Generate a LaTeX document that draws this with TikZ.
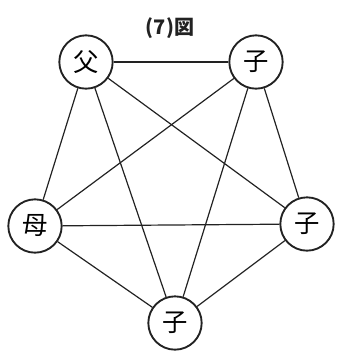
\documentclass[tikz,border=0pt]{standalone}
\usepackage{fontspec}
\newfontfamily\cjk{Noto Sans CJK JP}
\usetikzlibrary{positioning}
\definecolor{fmInk}{HTML}{222222}
\tikzset{
  mem/.style={circle, draw=fmInk, line width=1.4pt, fill=white, minimum size=40pt, inner sep=0pt, font=\cjk\fontsize{19}{19}\selectfont},
  lnk/.style={draw=fmInk, line width=0.9pt},
}
\begin{document}
\begin{tikzpicture}[x=0.75pt,y=-0.75pt]
  \useasboundingbox (0,0) rectangle (337,354);
  % title
  \node[font=\cjk\bfseries\fontsize{15}{15}\selectfont, text=fmInk] (ttl) at (170,28) {(7)図};
  % family members
  \node[mem] (fa) at (86,62) {父};
  \node[mem] (c1) at (256,62) {子};
  \node[mem] (mo) at (35,226) {母};
  \node[mem] (c2) at (307,224) {子};
  \node[mem] (c3) at (175,323) {子};
  % every pair linked
  \foreach \a/\b in {fa/c1, fa/mo, fa/c2, fa/c3, c1/mo, c1/c2, c1/c3, mo/c2, mo/c3, c2/c3}
    \draw[lnk] (\a) -- (\b);
\end{tikzpicture}
\end{document}
